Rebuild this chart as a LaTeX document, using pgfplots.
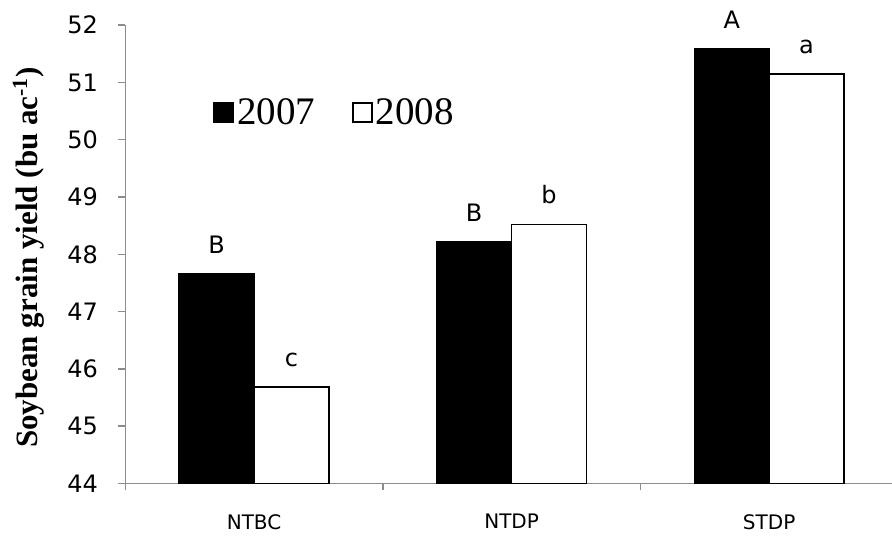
\documentclass[border=0pt]{standalone}
\usepackage{fontspec}
\setmainfont{DejaVu Sans}
\newfontfamily\timesf{Liberation Serif}
\usepackage{pgfplots}
\pgfplotsset{compat=1.18}
\definecolor{axgray}{RGB}{140,140,140}
\begin{document}
\begin{tikzpicture}
\useasboundingbox (-62.65pt,-29.35pt) rectangle (383.35pt,241.65pt);
\begin{axis}[
  scale only axis,
  width=383.35pt, height=229.05pt,
  xmin=-0.5, xmax=2.477,
  ymin=44, ymax=52,
  ytick={44,45,...,52},
  axis x line=bottom, axis y line=left,
  axis line style={-, draw=axgray, line width=0.75pt},
  tick style={draw=axgray, line width=0.75pt},
  tick align=outside,
  major tick length=3.5pt,
  xtick={-0.5,0.5,1.5},
  xticklabels={},
  extra x ticks={0,1,2},
  extra x tick labels={NTBC,NTDP,STDP},
  extra x tick style={major tick length=0pt},
  xticklabel style={font=\fontsize{10}{12}\selectfont, yshift=-12pt},
  yticklabel style={font=\fontsize{12}{14}\selectfont, inner sep=0pt, xshift=-10pt},
  /pgf/number format/assume math mode=true,
  ylabel={\timesf\bfseries Soybean grain yield (bu ac\textsuperscript{-1})},
  ylabel style={font=\fontsize{15.5}{18}\selectfont, at={(axis description cs:-0.126,0.493)}, anchor=center},
  ybar, bar width=37.4pt,
  nodes near coords={\pgfplotspointmeta},
  point meta=explicit symbolic,
  every node near coord/.append style={font=\fontsize{12}{14}\selectfont, yshift=6.5pt},
  legend columns=2,
  legend style={at={(axis cs:-0.16,50.47)}, anchor=west, draw=none, fill=none,
    font=\timesf\fontsize{19.5}{21}\selectfont, inner sep=0pt,
    /tikz/every even column/.append style={column sep=17pt},
    nodes={inner sep=1.5pt}},
  legend image code/.code={\draw[#1, line width=0.8pt] (0pt,-4.6pt) rectangle (9.6pt,5pt);},
]
\addplot[fill=black, draw=black, line width=0.8pt, bar shift=-18.7pt]
  coordinates {(0,47.66) [B] (1,48.21) [B] (2,51.58) [A]};
\addplot[fill=white, draw=black, line width=0.8pt, bar shift=18.7pt]
  coordinates {(0,45.68) [c] (1,48.52) [b] (2,51.15) [a]};
\legend{2007,2008}
\end{axis}
\end{tikzpicture}
\end{document}
